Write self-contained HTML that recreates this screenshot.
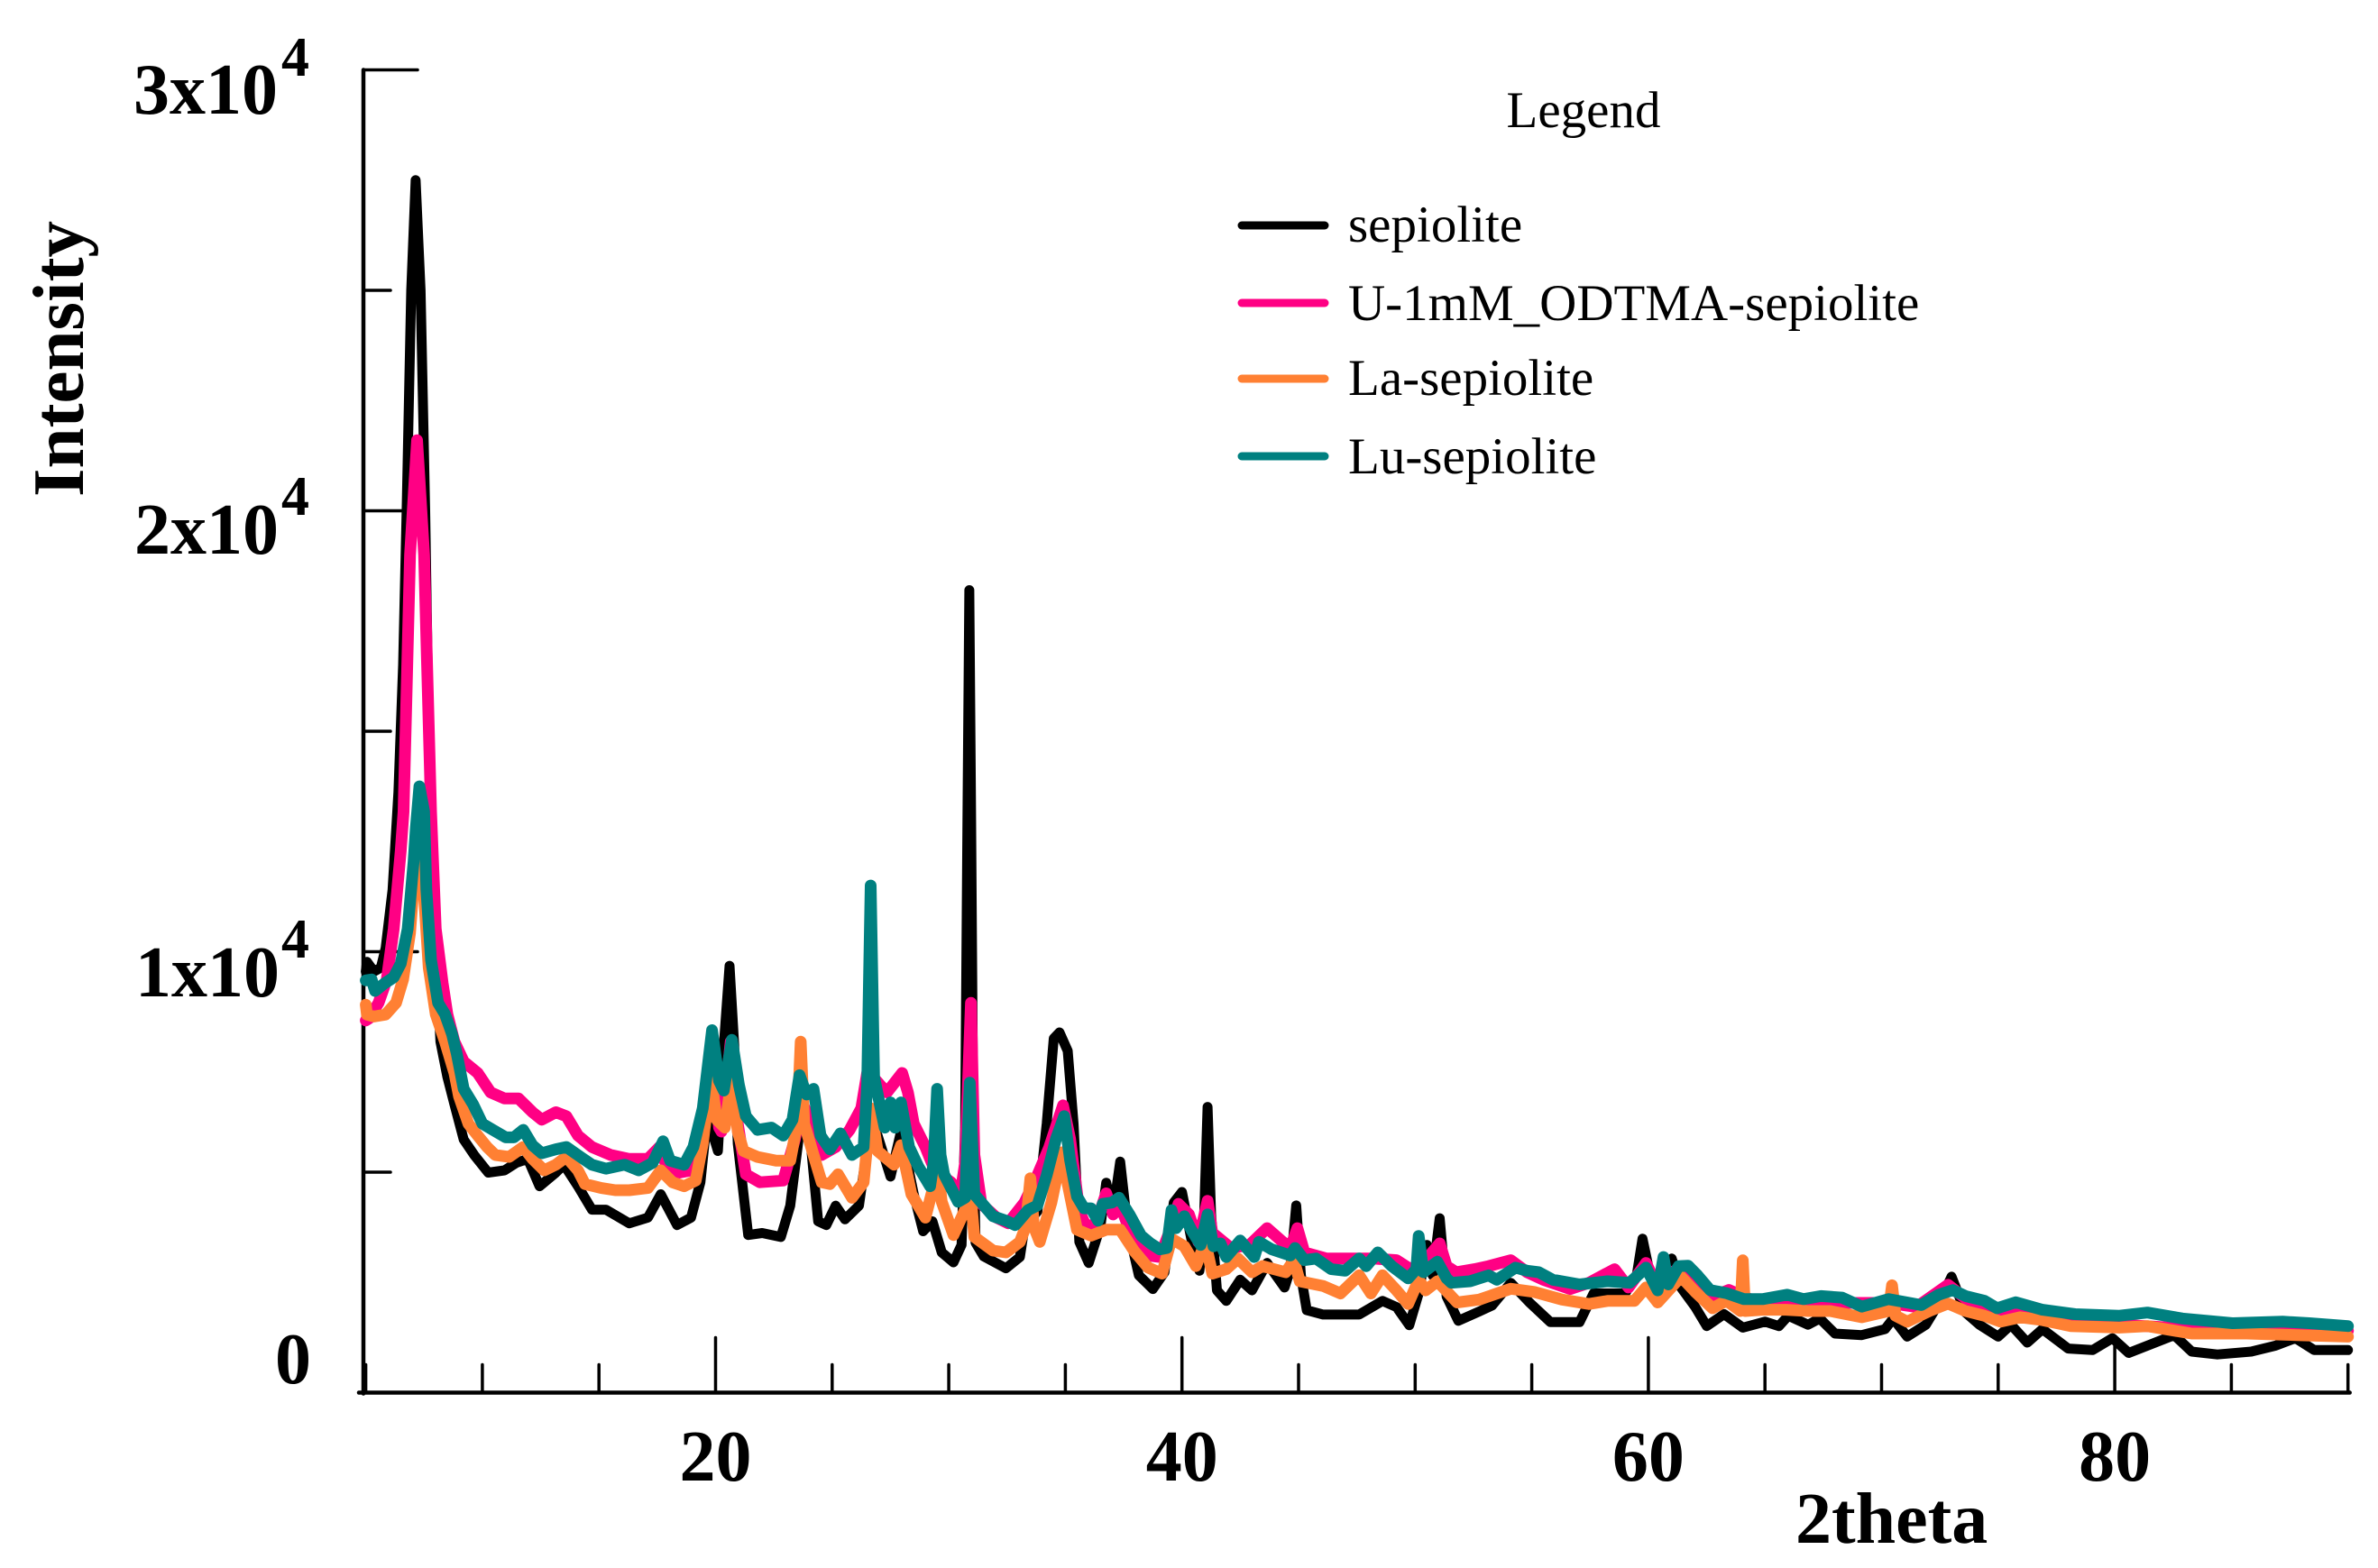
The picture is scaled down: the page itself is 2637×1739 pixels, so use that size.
<!DOCTYPE html>
<html lang="en">
<head>
<meta charset="utf-8">
<title>XRD patterns of sepiolite samples</title>
<style>
html,body{margin:0;padding:0;background:#fff}
svg{display:block}
text{font-family:"Liberation Serif",serif;fill:#000}
.b{font-weight:bold}
</style>
</head>
<body>
<svg id="chart" xmlns="http://www.w3.org/2000/svg" width="2637" height="1739" viewBox="0 0 2637 1739">
<rect width="2637" height="1739" fill="#fff"/>
<g id="axes"></g>
<g id="series"></g>
<g id="xlabels"></g>
<g>
<text class="b" x="148" y="126" font-size="80">3x10</text>
<text class="b" x="312" y="84" font-size="62">4</text>
<text class="b" x="149" y="614" font-size="80">2x10</text>
<text class="b" x="312" y="571" font-size="62">4</text>
<text class="b" x="150" y="1105" font-size="80">1x10</text>
<text class="b" x="312" y="1062" font-size="62">4</text>
<text class="b" x="305" y="1534" font-size="80">0</text>
</g>
<text class="b" transform="translate(92,551) rotate(-90)" font-size="81">Intensity</text>
<text class="b" x="1991" y="1711" font-size="80">2theta</text>
<g>
<text x="1756" y="141" font-size="57" text-anchor="middle">Legend</text>
<g id="legendEntries"></g>
</g>
</svg>
<script>
const xTicks = [5,10,15,20,25,30,35,40,45,50,55,60,65,70,75,80,85,90];
const xMajorTicks = [20,40,60,80];
const yTicks = [0,5000,10000,15000,20000,25000,30000];
const yMajorTicks = [0,10000,20000,30000];
const legendNames = ["sepiolite","U-1mM_ODTMA-sepiolite","La-sepiolite","Lu-sepiolite"];

const sepiolite = [[5,9550],[5.05,9770],[5.35,9550],[5.65,9640],[5.85,10080],[6.15,11400],[6.4,13620],[6.6,16500],[6.75,20000],[6.95,25000],[7.14,27500],[7.35,25000],[7.55,20000],[7.7,15000],[7.85,11500],[8.2,7960],[8.5,7160],[8.8,6540],[9.2,5740],[9.65,5390],[10.25,4990],[10.95,5040],[11.45,5210],[11.95,5300],[12.45,4680],[13.15,4990],[13.5,5170],[14.1,4680],[14.7,4150],[15.3,4150],[16.3,3840],[17.1,3970],[17.65,4500],[18.35,3800],[18.95,3970],[19.35,4770],[19.65,6270],[20.1,5480],[20.35,7870],[20.6,9680],[20.8,7870],[20.95,5650],[21.4,3575],[22,3620],[22.8,3530],[23.2,4240],[23.6,5920],[24,6100],[24.4,3885],[24.75,3800],[25.15,4240],[25.55,3930],[26.15,4240],[26.65,6100],[26.95,5830],[27.5,4900],[27.95,5920],[28.5,4500],[28.9,3660],[29.3,3885],[29.7,3180],[30.2,2955],[30.55,3350],[30.7,6000],[30.8,13000],[30.88,18200],[30.96,13000],[31.05,6000],[31.15,3400],[31.5,3090],[32.45,2820],[33.05,3075],[33.25,3760],[33.8,4110],[34.2,6100],[34.5,8030],[34.75,8170],[35.1,7750],[35.35,6100],[35.6,3420],[36,2940],[36.5,3760],[36.75,4760],[37.05,4110],[37.35,5240],[37.65,3830],[38.15,2660],[38.75,2350],[39.25,2730],[39.65,4310],[40,4550],[40.4,3490],[40.75,2765],[40.95,4040],[41.1,6480],[41.25,4040],[41.5,2320],[41.9,2080],[42.5,2560],[43,2320],[43.65,2940],[44.4,2385],[44.65,2800],[44.9,4245],[45.1,2660],[45.35,1870],[46.05,1770],[47.6,1770],[48.6,2080],[49.2,1940],[49.75,1530],[50.15,2250],[50.5,3350],[50.75,2660],[51.05,3955],[51.35,2180],[51.85,1630],[52.75,1840],[53.3,1975],[54.1,2490],[54.9,2045],[55.8,1600],[57.05,1600],[57.65,2250],[59,2250],[59.5,2660],[59.75,3490],[60.05,2730],[60.4,2250],[61,3040],[61.4,2385],[62,1950],[62.5,1510],[63.25,1780],[64.05,1475],[65,1610],[65.6,1510],[66,1745],[66.85,1540],[67.35,1680],[68,1340],[69.15,1305],[70.15,1440],[70.5,1680],[71.1,1270],[71.9,1540],[72.45,2020],[73,2630],[73.6,1815],[74.2,1540],[75,1270],[75.55,1540],[76.25,1135],[76.9,1440],[78,1000],[79.05,965],[79.9,1235],[80.6,900],[82.55,1305],[83.3,930],[84.4,865],[85.85,930],[86.9,1065],[87.75,1235],[88.55,965],[90,965]];

const uOdtmaSepiolite = [[5,8440],[5.15,8490],[5.55,8840],[5.9,9370],[6.2,10520],[6.5,12290],[6.62,13180],[6.9,19000],[7.2,21600],[7.5,19000],[7.8,13180],[8,10520],[8.3,9280],[8.5,8580],[8.8,7960],[9.2,7510],[9.8,7250],[10.35,6810],[10.95,6670],[11.55,6670],[12.15,6360],[12.55,6190],[13.15,6360],[13.6,6270],[14.1,5830],[14.7,5570],[15.5,5390],[16.3,5300],[17.1,5300],[17.6,5570],[17.85,5210],[18.45,4990],[18.95,5040],[19.45,6190],[19.85,7510],[20.15,6010],[20.25,5920],[20.65,7960],[20.95,6100],[21.3,4950],[21.9,4770],[22.9,4810],[23.4,5740],[23.7,6630],[24.1,6010],[24.55,5390],[25.15,5570],[25.75,5960],[26.25,6450],[26.5,7250],[26.75,7160],[27.05,6980],[27.35,6810],[28,7250],[28.25,6810],[28.5,6100],[29,5570],[29.4,5040],[30.1,4770],[30.5,4500],[30.7,5210],[30.95,8840],[31.1,5390],[31.4,4280],[32.05,3970],[32.55,3840],[33.25,4310],[33.8,4930],[34.3,5550],[34.9,6515],[35.2,5760],[35.6,4110],[35.9,3760],[36.3,3830],[36.75,4520],[37.05,4040],[37.35,4245],[37.95,3420],[38.55,3110],[39.05,3075],[39.45,3625],[39.85,4280],[40.3,4040],[40.7,3420],[41.1,4350],[41.3,3625],[42.1,3280],[42.9,3350],[43.65,3730],[44.25,3450],[44.65,3280],[44.95,3730],[45.25,3180],[46.2,3040],[47.2,3040],[48.2,3040],[49.2,3005],[49.8,2800],[50.45,3005],[51.05,3385],[51.35,2870],[51.75,2730],[52.55,2800],[53.15,2870],[54.1,3005],[54.8,2730],[55.5,2560],[56.65,2350],[57.45,2490],[58.55,2800],[59.15,2385],[59.9,2940],[60.4,2385],[61,2730],[61.6,2870],[62.75,2180],[63.45,2330],[64.5,2085],[66,2135],[68,2035],[70.3,2035],[71.5,1940],[72.85,2445],[73.6,2135],[75,1845],[77,1700],[80,1550],[83,1455],[86,1405],[88,1360],[90,1405]];

const laSepiolite = [[5,8800],[5.05,8575],[5.35,8530],[5.85,8575],[6.3,8840],[6.6,9370],[6.9,10430],[7.1,11850],[7.3,12800],[7.55,10880],[7.7,9640],[8,8580],[8.4,7960],[8.8,7250],[9,6720],[9.4,6100],[9.8,5830],[10.2,5570],[10.55,5390],[11.15,5345],[11.75,5570],[12.15,5300],[12.65,5040],[13.15,5170],[13.6,5345],[14.1,5040],[14.4,4730],[15.1,4640],[15.7,4590],[16.3,4590],[17.1,4640],[17.65,5040],[18.15,4770],[18.65,4680],[19.15,4810],[19.45,5650],[19.8,7160],[20.05,6190],[20.4,6010],[20.7,7160],[20.95,5920],[21.2,5480],[21.8,5345],[22.6,5260],[23.2,5260],[23.5,6100],[23.65,7960],[23.8,6100],[24.1,5570],[24.55,4770],[24.9,4730],[25.25,4950],[25.85,4420],[26.35,4770],[26.65,6450],[26.95,5480],[27.65,5170],[27.95,5610],[28.4,4500],[29,3970],[29.3,4590],[29.5,5210],[29.7,4330],[30.2,3575],[30.7,4150],[30.9,4680],[31.1,3530],[31.9,3220],[32.45,3180],[33.05,3420],[33.3,3760],[33.5,4860],[33.65,3760],[33.9,3420],[34.4,4310],[34.85,5450],[35.1,4730],[35.5,3695],[36.1,3560],[36.75,3695],[37.35,3695],[37.95,3210],[38.55,2835],[39.15,2700],[39.55,3490],[40.1,3320],[40.6,2870],[41,3420],[41.3,2700],[41.9,2800],[42.4,3040],[43,2730],[43.45,2870],[44.45,2730],[44.8,3005],[45.05,2525],[46.05,2420],[46.8,2250],[47.6,2660],[48.1,2250],[48.6,2660],[49.2,2320],[49.7,2010],[50.15,2560],[50.45,2320],[50.95,2525],[51.8,2045],[52.75,2110],[54.1,2355],[55.1,2285],[56.3,2110],[57.45,2010],[58.25,2080],[59.4,2080],[59.9,2385],[60.4,2045],[61.4,2630],[62,2290],[62.75,1915],[63.35,2085],[63.95,1850],[64.05,3000],[64.15,1850],[64.9,1880],[65.9,1880],[66.85,1850],[67.8,1850],[69.15,1710],[70.3,1850],[70.45,2435],[70.6,1745],[71.1,1610],[72.05,1850],[72.85,2020],[73.6,1850],[74.4,1745],[75.1,1610],[75.95,1710],[76.9,1645],[78.1,1510],[80.2,1475],[81.4,1510],[83.3,1340],[85.65,1340],[87.8,1305],[90,1270]];

const luSepiolite = [[5,9350],[5.25,9370],[5.4,9110],[5.8,9280],[6.2,9420],[6.5,9730],[6.8,10520],[7.05,12030],[7.15,12820],[7.3,13750],[7.5,13180],[7.6,11410],[7.8,9810],[8.1,8840],[8.4,8580],[8.7,8130],[8.9,7690],[9.2,6890],[9.6,6540],[10,6100],[10.45,5960],[11,5790],[11.35,5790],[11.75,5960],[12.15,5610],[12.55,5430],[13.15,5520],[13.6,5570],[14.2,5350],[14.7,5170],[15.3,5080],[16.1,5170],[16.7,5040],[17.3,5210],[17.75,5700],[18.05,5260],[18.65,5170],[19.05,5570],[19.45,6450],[19.85,8220],[20.15,7070],[20.35,6850],[20.7,8000],[21,6980],[21.3,6270],[21.8,5960],[22.4,6010],[22.9,5830],[23.3,6190],[23.6,7200],[23.9,6760],[24.2,6890],[24.5,5830],[24.9,5520],[25.35,5880],[25.85,5390],[26.35,5570],[26.5,6980],[26.65,11500],[26.8,7160],[27.25,6010],[27.5,6580],[27.7,6010],[27.95,6580],[28.3,5570],[28.7,5120],[29.2,4680],[29.35,5210],[29.5,6890],[29.65,5390],[29.8,4950],[30.4,4330],[30.7,4420],[30.9,7030],[31.1,4500],[31.9,4000],[32.45,3900],[32.85,3800],[33.4,4140],[33.8,4245],[34.2,4930],[34.6,5760],[34.95,6270],[35.2,5280],[35.5,4450],[35.8,4180],[36.1,4180],[36.4,3900],[36.6,4280],[37,4310],[37.3,4420],[37.75,4040],[38.25,3560],[38.65,3385],[39.05,3250],[39.35,3280],[39.55,4140],[39.75,3730],[40.1,4000],[40.4,3695],[40.8,3350],[41.1,4040],[41.35,3320],[41.65,3385],[41.9,3075],[42.5,3450],[43.1,3075],[43.3,3420],[43.85,3250],[44.65,3110],[44.85,3280],[45.25,3005],[45.75,3040],[46.4,2800],[47,2765],[47.6,3040],[47.9,2870],[48.4,3180],[49,2870],[49.7,2590],[50.05,2800],[50.15,3555],[50.35,2730],[50.95,2970],[51.35,2590],[51.55,2490],[52.35,2525],[53.15,2660],[53.5,2560],[54.3,2835],[54.8,2765],[55.3,2730],[55.9,2560],[57.05,2455],[58.25,2525],[59.2,2490],[59.9,2835],[60.4,2320],[60.65,3075],[60.85,2455],[61.3,2870],[61.7,2880],[62.1,2665],[62.65,2325],[63.35,2255],[64.1,2120],[64.9,2120],[65.95,2220],[66.65,2120],[67.4,2190],[68.3,2155],[69.15,1950],[70.3,2120],[71.7,1985],[72.45,2220],[73.05,2325],[73.6,2190],[74.4,2085],[74.95,1915],[75.75,2050],[76.9,1880],[78.3,1780],[80.2,1745],[81.4,1815],[82.9,1680],[85.05,1575],[87.2,1610],[88.35,1575],[90,1510]];

const NS = "http://www.w3.org/2000/svg";
const xAt = v => 405.6 + (v - 5) * 25.86;
const yAt = v => 1544.5 - v * 0.0489;

const axes = document.getElementById("axes");
function line(parent, x1, y1, x2, y2, w, c) {
  const l = document.createElementNS(NS, "line");
  l.setAttribute("x1", x1); l.setAttribute("y1", y1);
  l.setAttribute("x2", x2); l.setAttribute("y2", y2);
  l.setAttribute("stroke", c); l.setAttribute("stroke-width", w);
  l.setAttribute("stroke-linecap", "round");
  parent.appendChild(l);
  return l;
}
const yAxisLine = line(axes, 403, yAt(30000), 403, yAt(0) + 1, 4.5, "#000");


const xAxisLine = line(axes, 398, yAt(0), xAt(90) + 2, yAt(0), 4.5, "#000");


xTicks.forEach(v => {
  const len = xMajorTicks.includes(v) ? 61 : 31;
  const t = line(axes, xAt(v), yAt(0), xAt(v), yAt(0) - len, 3.5, "#000");
  
  
});
yTicks.forEach(v => {
  const len = yMajorTicks.includes(v) ? 60 : 30;
  const t = line(axes, 403, yAt(v), 403 + len, yAt(v), 3.5, "#000");
  
  
});

const xLabelGroup = document.getElementById("xlabels");
xMajorTicks.forEach(v => {
  const t = document.createElementNS(NS, "text");
  t.setAttribute("x", xAt(v));
  t.setAttribute("y", 1642);
  t.setAttribute("text-anchor", "middle");
  t.setAttribute("font-size", "80");
  t.setAttribute("class", "b");
  
  
  t.textContent = String(v);
  xLabelGroup.appendChild(t);
});

const seriesGroup = document.getElementById("series");
function drawSeries(points, color, width) {
  const p = document.createElementNS(NS, "path");
  p.setAttribute("d", points.map((pt, i) => (i ? "L" : "M") + xAt(pt[0]).toFixed(1) + " " + yAt(pt[1]).toFixed(1)).join(""));
  p.setAttribute("fill", "none");
  p.setAttribute("stroke", color);
  p.setAttribute("stroke-width", width);
  p.setAttribute("stroke-linejoin", "round");
  p.setAttribute("stroke-linecap", "round");
  seriesGroup.appendChild(p);
  return p;
}
const sepiolitePath = drawSeries(sepiolite, "#000000", 11);


const uPath = drawSeries(uOdtmaSepiolite, "#FF0084", 13);


const laPath = drawSeries(laSepiolite, "#FF8033", 13);


const luPath = drawSeries(luSepiolite, "#008080", 13);



const legendColors = ["#000000","#FF0084","#FF8033","#008080"];
const legendGroup = document.getElementById("legendEntries");
const legendLineOffsets = [3, 89, 173, 259];
const legendTextOffsets = [21, 108, 191, 278];
legendNames.forEach((name, i) => {
  const sw = line(legendGroup, 1377, 247 + legendLineOffsets[i], 1469, 247 + legendLineOffsets[i], 9, legendColors[i]);
  
  
  const t = document.createElementNS(NS, "text");
  t.setAttribute("x", 1495);
  t.setAttribute("y", 247 + legendTextOffsets[i]);
  t.setAttribute("font-size", "57");
  
  
  t.textContent = name;
  legendGroup.appendChild(t);
});
</script>
</body>
</html>
